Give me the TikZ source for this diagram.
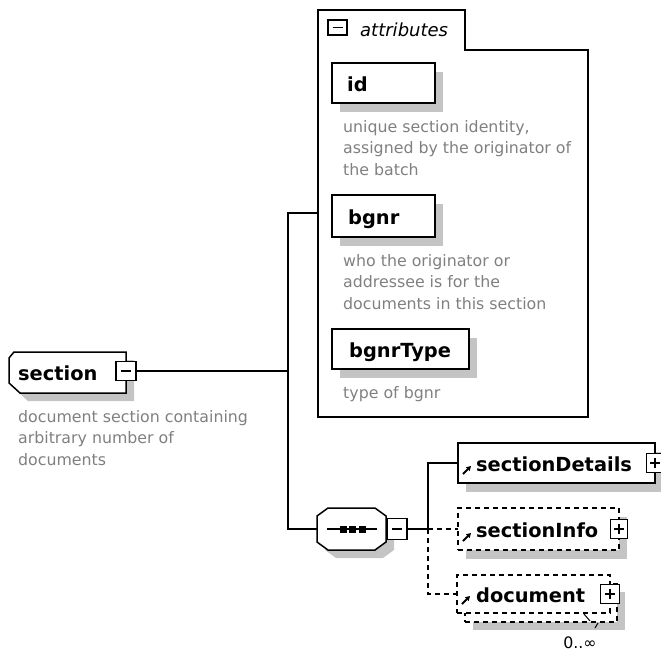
\documentclass[tikz,border=0pt]{standalone}
\usepackage{fontspec}
\setmainfont{DejaVu Sans}
\usetikzlibrary{arrows.meta}
\definecolor{shadegray}{HTML}{C4C4C4}
\definecolor{descgray}{HTML}{808080}
\begin{document}
\begin{tikzpicture}[x=1pt,y=-1pt,
  ln/.style={line width=1.5pt},
  dln/.style={line width=1.5pt, dash pattern=on 5pt off 4pt},
  shd/.style={fill=shadegray},
  bx/.style={draw, line width=1.5pt, fill=white, anchor=north west, inner sep=0pt, outer sep=0pt},
  pmbox/.style={draw, line width=1.2pt, fill=white, inner sep=0pt, outer sep=0pt, minimum width=17pt, minimum height=19pt},
  minusbox/.style={pmbox, path picture={\draw[line width=1.2pt] ([xshift=-5pt]path picture bounding box.center) -- ([xshift=5pt]path picture bounding box.center);}},
  plusbox/.style={pmbox, path picture={\draw[line width=1.2pt] ([xshift=-5pt]path picture bounding box.center) -- ([xshift=5pt]path picture bounding box.center) ([yshift=-5pt]path picture bounding box.center) -- ([yshift=5pt]path picture bounding box.center);}},
  nm/.style={font=\fontsize{19.4}{22}\selectfont\bfseries, anchor=base west, inner sep=0pt},
  dsc/.style={font=\fontsize{15.8}{21.5}\selectfont, text=descgray, anchor=north west, align=left, inner sep=0pt},
  refarrow/.style={line width=1.8pt, -{Triangle[length=4.5pt,width=5pt]}},
  anchorbox/.style={inner sep=0pt, outer sep=0pt, anchor=north west},
]
\useasboundingbox (0,0) rectangle (661,651);

% ---------- section ----------
\fill[shd, shift={(8,8)}] (14,352)--(126,352)--(126,393)--(20,393)--(9,383)--(9,358)--cycle;
\draw[ln, fill=white] (14,352)--(126,352)--(126,393)--(20,393)--(9,383)--(9,358)--cycle;
\node[nm] (section) at (18,380) {section};
\node[minusbox, minimum width=20pt] (secpm) at (126,371) {};
\node[dsc] (secdesc) at (18,410) {document section containing\\arbitrary number of\\documents};

% ---------- attributes ----------
\draw[ln] (318,50)--(318,10)--(465,10)--(465,50)--(588,50)--(588,417)--(318,417)--cycle;
\node[anchorbox, minimum width=270pt, minimum height=407pt] (attrs) at (318,10) {};
\node[minusbox, minimum width=19pt, minimum height=15pt] (attrpm) at (337.5,27.5) {};
\node[font=\fontsize{18}{20}\selectfont\itshape, anchor=base west, inner sep=0pt] (attrlbl) at (360,36.5) {attributes};

\fill[shd] (340,72) rectangle (443,112);
\node[bx, minimum width=103pt, minimum height=40pt] (idbox) at (332,63) {};
\node[nm] (id) at (347,91) {id};
\node[dsc] (iddesc) at (343,120) {unique section identity,\\assigned by the originator of\\the batch};

\fill[shd] (340,204) rectangle (443,246);
\node[bx, minimum width=103pt, minimum height=42pt] (bgnrbox) at (332,195) {};
\node[nm] (bgnr) at (348,224) {bgnr};
\node[dsc] (bgnrdesc) at (343,254) {who the originator or\\addressee is for the\\documents in this section};

\fill[shd] (340,338) rectangle (477,378);
\node[bx, minimum width=137pt, minimum height=40pt] (btbox) at (332,329) {};
\node[nm] (bgnrType) at (349,357) {bgnrType};
\node[dsc] (btdesc) at (343,386) {type of bgnr};

% ---------- sequence ----------
\fill[shd, shift={(8,8)}] (328,508)--(375,508)--(386,516)--(386,542)--(375,550)--(328,550)--(317,542)--(317,516)--cycle;
\draw[ln, fill=white] (328,508)--(375,508)--(386,516)--(386,542)--(375,550)--(328,550)--(317,542)--(317,516)--cycle;
\node[inner sep=0pt, outer sep=0pt, minimum width=69pt, minimum height=42pt] (seq) at (351.5,529) {};
\draw[line width=1.3pt] (327,529)--(377,529);
\fill (339.5,525.5) rectangle +(7,7);
\fill (349,525.5) rectangle +(7,7);
\fill (358.5,525.5) rectangle +(7,7);
\node[minusbox, minimum width=20pt, minimum height=21pt] (seqpm) at (397,529) {};

% ---------- child elements ----------
\fill[shd] (466,452) rectangle (663,492);
\node[bx, minimum width=197pt, minimum height=40pt] (sd) at (458,443) {};
\node[nm] (sdtext) at (476,471) {sectionDetails};
\node[plusbox] (sdpm) at (655,463) {};
\draw[refarrow] ([shift={(5,-9)}]sd.south west) -- ([shift={(13,-17)}]sd.south west);

\fill[shd] (466,517) rectangle (627,559);
\node[bx, dash pattern=on 5pt off 4pt, minimum width=161pt, minimum height=42pt] (si) at (458,508) {};
\node[nm] (sitext) at (476,537) {sectionInfo};
\node[plusbox] (sipm) at (619,529) {};
\draw[refarrow] ([shift={(5,-9)}]si.south west) -- ([shift={(13,-17)}]si.south west);

\fill[shd] (473,592) rectangle (625,630);
\node[bx, dash pattern=on 5pt off 4pt, minimum width=152pt, minimum height=38pt] (docb) at (465,584) {};
\node[bx, dash pattern=on 5pt off 4pt, minimum width=153pt, minimum height=38pt] (docf) at (457,575) {};
\node[nm] (doctext) at (476,602) {document};
\node[plusbox, minimum width=19pt] (docpm) at (610,594) {};
\draw[refarrow] ([shift={(5,-9)}]docf.south west) -- ([shift={(13,-17)}]docf.south west);
\draw[line width=1pt] (584,614)--(590,621);
\draw[line width=1pt] (598,623)--(595,628);
\node[font=\fontsize{15.8}{18}\selectfont, anchor=base, inner sep=0pt] (occ) at (580,648) {0..∞};

% ---------- connectors ----------
\coordinate (vtop) at (288,213);
\coordinate (vsec) at (288,371);
\coordinate (vbot) at (288,529);
\coordinate (cj) at (428,529);
\draw[ln] (secpm.east) -- (vsec);
\draw[ln] (attrs.west |- vtop) -- (vtop) -- (vbot) -- (seq.west);
\draw[ln] (seqpm.east) -- (cj) |- (sd.west);
\draw[dln] (cj) -- (si.west);
\draw[dln] (cj) |- (docf.west);
\end{tikzpicture}
\end{document}
